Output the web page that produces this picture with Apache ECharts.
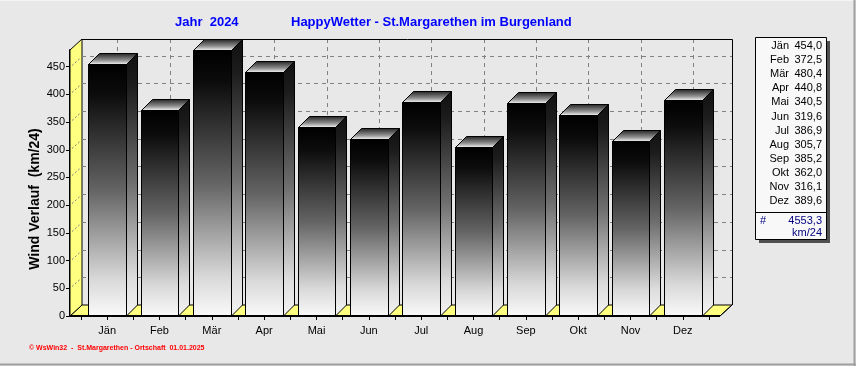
<!DOCTYPE html>
<html><head><meta charset="utf-8">
<script src="https://cdn.jsdelivr.net/npm/echarts@6/dist/echarts.min.js"></script>
<style>html,body{margin:0;padding:0;background:#e8e8e8}#c{width:856px;height:366px}</style>
</head><body><div id="c"></div><script>
const categories = ['Jän','Feb','Mär','Apr','Mai','Jun','Jul','Aug','Sep','Okt','Nov','Dez'];
const windValues = [454.0,372.5,480.4,440.8,340.5,319.6,386.9,305.7,385.2,362.0,316.1,389.6];
const yTicks = [0,50,100,150,200,250,300,350,400,450];
const yMax = 480;
const titleYear = 'Jahr  2024';
const titleMain = 'HappyWetter - St.Margarethen im Burgenland';
const yName = 'Wind Verlauf  (km/24)';
const unitText = 'km/24';
const footerText = '© WsWin32  -  St.Margarethen - Ortschaft  01.01.2025';

const FONT = 'Arial, "Liberation Sans", sans-serif';
const YEL = '#ffff80';
const WDX = 12, WDY = 11, BDX = 11, BDY = 11;

const fmt = v => v.toFixed(1).replace('.', ',');
const total = windValues.reduce((a, b) => a + b, 0);

const chart = echarts.init(document.getElementById('c'), null, {renderer: 'canvas'});

function renderWalls(params, api) {
  const p0 = api.coord([-0.5, 0]), p1 = api.coord([11.5, 0]);
  const T = api.coord([0, yMax])[1];
  const L = Math.round(p0[0]) - 11, R = Math.round(p1[0]) + 11, B = Math.round(p0[1]);
  const ch = [];
  ch.push({type: 'polygon', shape: {points: [[L, B], [L + WDX, B - WDY], [R + WDX, B - WDY], [R, B]]}, style: {fill: YEL, stroke: '#000', lineWidth: 1}});
  ch.push({type: 'polygon', shape: {points: [[L, B], [L, T], [L + WDX, T - WDY], [L + WDX, B - WDY]]}, style: {fill: YEL, stroke: '#000', lineWidth: 1}});
  yTicks.forEach(v => {
    if (v === 0) return;
    const y = Math.round(api.coord([0, v])[1]) + 0.5;
    ch.push({type: 'line', shape: {x1: L + WDX, y1: y - WDY, x2: R + WDX, y2: y - WDY}, style: {stroke: '#808080', lineWidth: 1, lineDash: [4, 4]}});
    ch.push({type: 'line', shape: {x1: L + 2, y1: y - 2, x2: L + WDX - 2, y2: y - WDY + 2}, style: {stroke: '#808080', lineWidth: 1, lineDash: [2, 2]}});
  });
  categories.forEach((c, i) => {
    const x = Math.round(api.coord([i, 0])[0]) + 10.5;
    ch.push({type: 'line', shape: {x1: x, y1: T - WDY, x2: x, y2: B - WDY}, style: {stroke: '#808080', lineWidth: 1, lineDash: [4, 4]}});
  });
  ch.push({type: 'polyline', shape: {points: [[L + WDX, T - WDY + 0.5], [R + WDX + 0.5, T - WDY + 0.5], [R + WDX + 0.5, B - WDY]]}, style: {stroke: '#000', lineWidth: 1, fill: null}});
  return {type: 'group', children: ch};
}

function renderFront(params, api) {
  const p0 = api.coord([-0.5, 0]), p1 = api.coord([11.5, 0]);
  const L = Math.round(p0[0]) - 11, R = Math.round(p1[0]) + 11, B = Math.round(p0[1]);
  return {type: 'group', children: [
    {type: 'line', shape: {x1: L - 1, y1: B, x2: R, y2: B}, style: {stroke: '#000', lineWidth: 2}},
    {type: 'line', shape: {x1: R, y1: B, x2: R + WDX, y2: B - WDY}, style: {stroke: '#000', lineWidth: 1}}
  ]};
}

const frontGrad = new echarts.graphic.LinearGradient(0, 0, 0, 1, [
  {offset: 0, color: '#000000'}, {offset: 0.12, color: '#0c0c0c'}, {offset: 0.5, color: '#646464'}, {offset: 0.85, color: '#d8d8d8'}, {offset: 1, color: '#fafafa'}]);
const sideGrad = new echarts.graphic.LinearGradient(0, 0, 0, 1, [
  {offset: 0, color: '#101010'}, {offset: 0.12, color: '#1c1c1c'}, {offset: 0.5, color: '#707070'}, {offset: 0.85, color: '#dcdcdc'}, {offset: 1, color: '#f4f4f4'}]);
const topGrad = new echarts.graphic.LinearGradient(0, 0, 0, 1, [
  {offset: 0, color: '#202020'}, {offset: 0.6, color: '#909090'}, {offset: 1, color: '#ffffff'}]);

function renderBar(params, api) {
  const i = api.value(0), v = api.value(1);
  const top = api.coord([i, v]), base = api.coord([i, 0]);
  const hw = api.size([1, 0])[0] * 0.363;
  const l = Math.round(top[0] - hw) + 0.5, r = Math.round(top[0] + hw) + 0.5;
  const t = Math.round(top[1]) + 0.5, b = Math.round(base[1]);
  return {type: 'group', children: [
    {type: 'polygon', shape: {points: [[r, t], [r + BDX, t - BDY], [r + BDX, b - BDY], [r, b]]}, style: {fill: sideGrad, stroke: '#000', lineWidth: 1}},
    {type: 'polygon', shape: {points: [[l, t], [r, t], [r + BDX, t - BDY], [l + BDX, t - BDY]]}, style: {fill: topGrad, stroke: '#000', lineWidth: 1}},
    {type: 'rect', shape: {x: l, y: t, width: r - l, height: b - t}, style: {fill: frontGrad, stroke: '#000', lineWidth: 1}}
  ]};
}

const legendTexts = [];
const LX = 755, LY = 37, LW = 71, LH = 202;
legendTexts.push({type: 'rect', shape: {x: LX + 4, y: LY + 4, width: LW, height: LH}, style: {fill: '#505050'}, z: 10});
legendTexts.push({type: 'rect', shape: {x: LX + 0.5, y: LY + 0.5, width: LW, height: LH}, style: {fill: '#f8f8f8', stroke: '#000', lineWidth: 1}, z: 11});
categories.forEach((c, i) => {
  const y = 46 + i * 14.1;
  legendTexts.push({type: 'text', x: 789, y: y, style: {text: c, font: '11px ' + FONT, fill: '#000', align: 'right', verticalAlign: 'middle'}, z: 12});
  legendTexts.push({type: 'text', x: 822, y: y, style: {text: fmt(windValues[i]), font: '11px ' + FONT, fill: '#000', align: 'right', verticalAlign: 'middle'}, z: 12});
});
legendTexts.push({type: 'line', shape: {x1: LX, y1: 212.5, x2: LX + LW, y2: 212.5}, style: {stroke: '#000', lineWidth: 1}, z: 12});
legendTexts.push({type: 'text', x: 760, y: 221, style: {text: '#', font: '11px ' + FONT, fill: '#000080', align: 'left', verticalAlign: 'middle'}, z: 12});
legendTexts.push({type: 'text', x: 822, y: 221, style: {text: fmt(total), font: '11px ' + FONT, fill: '#000080', align: 'right', verticalAlign: 'middle'}, z: 12});
legendTexts.push({type: 'text', x: 822, y: 232.5, style: {text: unitText, font: '11px ' + FONT, fill: '#000080', align: 'right', verticalAlign: 'middle'}, z: 12});

const option = {
  backgroundColor: '#e8e8e8',
  animation: false,
  grid: {left: 81, top: 50, width: 628, height: 266},
  xAxis: {
    type: 'value', min: -0.5, max: 11.5, interval: 0.5,
    axisLine: {show: false, onZero: false},
    axisTick: {show: true, length: 4, lineStyle: {color: '#000'}},
    splitLine: {show: false},
    axisLabel: {margin: 9, fontSize: 11, fontFamily: FONT, color: '#000', showMinLabel: true, showMaxLabel: true,
      formatter: v => { const r = Math.round(v); return Math.abs(v - r) < 1e-6 && r >= 0 && r < categories.length ? categories[r] : ''; }}
  },
  yAxis: {
    type: 'value', min: 0, max: yMax, interval: 50, offset: 11,
    axisLine: {show: true, onZero: false, lineStyle: {color: '#000', width: 2}},
    axisTick: {show: true, length: 4, lineStyle: {color: '#000'}},
    splitLine: {show: false},
    axisLabel: {margin: 5, fontSize: 11, fontFamily: FONT, color: '#000', showMaxLabel: false,
      formatter: v => (v % 50 === 0 ? String(v) : '')}
  },
  series: [
    {type: 'custom', renderItem: renderWalls, data: [[0, 0]], z: 1, silent: true, clip: false},
    {type: 'custom', renderItem: renderBar, data: windValues.map((v, i) => [i, v]), encode: {x: 0, y: 1}, z: 3, silent: true, clip: false},
    {type: 'custom', renderItem: renderFront, data: [[0, 0]], z: 4, silent: true, clip: false}
  ],
  graphic: [
    {type: 'text', x: 175, y: 22, style: {text: titleYear, font: 'bold 13px ' + FONT, fill: '#0000ff', align: 'left', verticalAlign: 'middle'}},
    {type: 'text', x: 291, y: 22, style: {text: titleMain, font: 'bold 13px ' + FONT, fill: '#0000ff', align: 'left', verticalAlign: 'middle'}},
    {type: 'text', x: 35, y: 199, rotation: Math.PI / 2, style: {text: yName, font: 'bold 14px ' + FONT, fill: '#000', align: 'center', verticalAlign: 'middle'}},
    {type: 'text', x: 29, y: 348, style: {text: footerText, font: 'bold 7px ' + FONT, fill: '#ff0000', align: 'left', verticalAlign: 'middle'}},
    {type: 'line', shape: {x1: 0, y1: 0.5, x2: 856, y2: 0.5}, style: {stroke: '#f4f4f4', lineWidth: 1}},
    {type: 'line', shape: {x1: 0, y1: 364.5, x2: 856, y2: 364.5}, style: {stroke: '#a0a0a0', lineWidth: 2}},
    {type: 'line', shape: {x1: 854.5, y1: 0, x2: 854.5, y2: 366}, style: {stroke: '#a0a0a0', lineWidth: 2}},
    {type: 'group', children: legendTexts}
  ]
};
chart.setOption(option);
</script></body></html>
